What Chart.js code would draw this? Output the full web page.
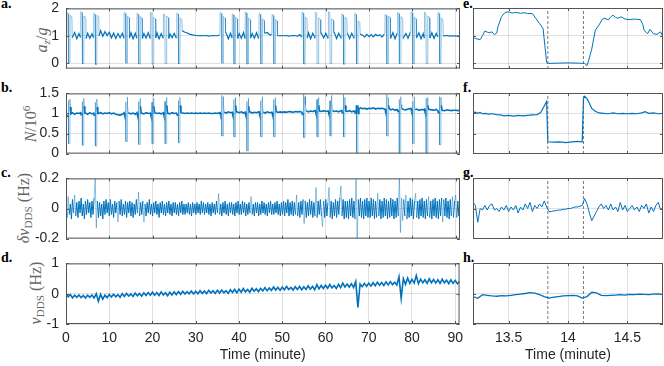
<!DOCTYPE html>
<html>
<head>
<meta charset="utf-8">
<script src="https://cdn.jsdelivr.net/npm/chart.js"></script>
<style>
body{margin:0;background:#fff;width:664px;height:366px;position:relative;overflow:hidden}
canvas{position:absolute}
.lt{position:absolute;font:bold 14px/14px "Liberation Serif",serif;color:#000}
.yt{position:absolute;transform:translate(-50%,-50%) rotate(-90deg);font:16px/16px "Liberation Serif",serif;color:#666;white-space:nowrap}
.yt sub,.yt sup{font-size:0.7em;line-height:0}
.yt sub{vertical-align:-0.3em}
.yt sup{vertical-align:0.5em}
</style>
</head>
<body>
<div class="lt" style="left:1px;top:-3px">a.</div>
<div class="lt" style="left:1px;top:81px">b.</div>
<div class="lt" style="left:1px;top:166px">c.</div>
<div class="lt" style="left:1px;top:251px">d.</div>
<div class="lt" style="left:463px;top:-3px">e.</div>
<div class="lt" style="left:463px;top:81px">f.</div>
<div class="lt" style="left:463px;top:166px">g.</div>
<div class="lt" style="left:463px;top:251px">h.</div>
<div class="yt" style="left:42px;top:40px"><i>a</i><sub><i>z</i></sub>/<i>g</i></div>
<div class="yt" style="left:31px;top:124px"><i>N</i>/10<sup>6</sup></div>
<div class="yt" style="left:24px;top:208px"><i>δν</i><sub>DDS</sub> (Hz)</div>
<div class="yt" style="left:36px;top:293px"><i>ν</i><sub>DDS</sub> (Hz)</div>
<script>
// long record a., b., d. sampled every 0.5 minute from t = 0 to 91
const T_STEP = 0.5;
// c. sampled every 0.25 minute
const T_STEP_C = 0.25;

// a. accelerometer a_z/g between jumps
const azBase = [
 1.04,0.90,1.10,0.93,1.12,0.89,1.08,0.94,1.11,0.90,
 1.09,0.91,1.07,0.93,1.18,1.00,1.19,0.98,1.15,1.01,
 1.13,0.92,1.10,0.90,1.08,0.93,1.09,0.91,1.07,0.92,
 1.11,0.89,1.09,0.91,1.12,0.90,1.08,0.92,1.11,0.90,
 1.09,0.92,1.11,0.89,1.08,0.91,1.12,0.90,1.07,0.93,
 1.09,0.91,1.12,1.15,1.18,1.13,1.10,1.06,1.04,1.02,
 1.01,1.00,1.01,1.00,1.00,1.01,0.99,1.00,1.01,1.00,
 1.00,1.04,1.08,0.90,1.10,0.89,1.09,0.92,1.11,0.90,
 1.08,0.91,1.12,0.90,1.09,0.92,1.08,0.91,1.11,0.90,
 1.09,0.92,1.10,1.12,1.03,1.04,1.01,1.02,1.00,1.01,
 1.00,1.00,1.01,0.99,1.00,1.01,1.00,0.99,1.04,0.95,
 1.08,0.91,1.11,0.89,1.09,0.92,1.11,0.90,1.08,0.92,
 1.09,0.91,1.08,0.93,1.11,0.90,1.09,0.92,1.08,0.91,
 1.10,0.90,1.09,0.92,1.05,0.96,1.06,1.02,0.96,1.05,
 0.97,1.04,0.96,1.05,1.00,1.04,0.95,1.06,0.95,1.09,
 0.90,1.11,0.89,1.09,0.92,1.11,0.90,1.08,0.91,1.12,
 0.90,1.09,0.92,1.11,0.89,1.08,0.91,1.09,0.92,1.11,
 0.90,1.08,0.96,1.03,0.99,1.00,1.01,0.99,1.00,0.99,
 1.00,0.99,1.00
];
// time (minute) where each jump's free-fall (a_z = 0) starts
const jumpT = [0.6,3.8,6.8,13.83,16.8,19.9,22.9,26.0,36.0,38.8,41.8,45.0,48.0,54.9,58.0,61.0,64.1,67.1,74.1,77.0,80.1,83.2,86.3];
const azPre  = [1.85,1.88,1.82,1.85,1.82,1.86,1.80,1.83,1.85,1.80,1.87,1.82,1.78,1.87,1.86,1.88,1.80,1.82,1.78,1.85,1.87,1.86,1.85];
const azLow  = [0,-0.02,-0.05,0,-0.03,-0.04,-0.02,-0.02,0,-0.02,-0.03,-0.02,-0.02,-0.03,-0.02,-0.02,-0.04,-0.02,-0.02,-0.02,-0.02,-0.02,-0.02];
const azPost = [1.75,1.72,1.75,1.72,1.70,1.68,1.72,1.65,1.70,1.68,1.65,1.62,1.60,1.68,1.65,1.62,1.68,1.55,1.72,1.70,1.68,1.72,1.65];

// b. atom number N/10^6
const nBase = [
 0.98,1.01,0.99,1.02,0.98,1.01,1.00,1.02,0.99,1.01,
 0.98,1.02,0.99,1.01,1.03,1.00,1.02,0.99,1.01,1.00,
 1.02,0.99,1.01,0.98,0.97,0.96,0.98,1.02,1.00,1.02,
 0.99,1.01,0.98,1.02,1.00,1.01,0.99,1.02,1.00,1.01,
 0.99,1.02,1.00,1.01,0.99,1.02,1.00,1.01,0.99,1.02,
 1.00,1.01,0.99,1.02,1.01,1.00,1.01,1.00,1.01,1.00,
 1.01,1.00,1.01,1.00,1.01,1.00,1.01,1.00,1.00,1.01,
 1.00,1.02,1.01,1.03,1.01,1.04,1.02,1.03,1.01,1.04,
 1.02,1.04,1.01,1.03,1.02,1.04,1.01,1.03,1.02,1.04,
 1.02,1.03,1.01,1.04,1.02,1.03,1.03,1.04,1.03,1.04,
 1.03,1.04,1.03,1.05,1.04,1.03,1.05,1.04,1.05,1.03,
 1.05,1.07,1.04,1.06,1.05,1.07,1.04,1.06,1.05,1.07,
 1.05,1.06,1.04,1.07,1.05,1.06,1.04,1.07,1.05,1.06,
 1.05,1.07,1.04,1.06,1.13,1.11,1.14,1.12,1.13,1.11,
 1.13,1.12,1.14,1.11,1.13,1.12,1.13,1.11,1.10,1.12,
 1.09,1.11,1.08,1.10,1.09,1.12,1.10,1.09,1.11,1.12,
 1.10,1.09,1.11,1.08,1.10,1.09,1.11,1.08,1.10,1.09,
 1.08,1.10,1.07,1.09,1.08,1.07,1.09,1.08,1.07,1.08,
 1.08,1.07,1.08
];
const nPre  = [1.32,1.30,1.28,1.29,1.30,1.28,1.30,1.32,1.45,1.35,1.30,1.32,1.35,1.50,1.35,1.32,1.48,1.20,1.48,1.35,1.30,1.38,1.42];
const nLow  = [0.25,0.21,0.19,0.30,0.23,0.25,0.25,0.27,0.44,0.42,0.07,0.42,0.42,0.40,0.42,0.44,0.42,0.0,0.44,0.0,0.25,0.0,0.22];
const nPost = [1.36,1.38,1.36,1.41,1.38,1.38,1.40,1.40,1.42,1.40,1.38,1.42,1.40,1.42,1.40,1.45,1.40,1.20,1.40,1.42,1.42,1.40,1.40];

// c. DDS frequency correction (Hz), every 0.25 minute
const dnu = [
 0.05,-0.06,0.08,-0.04,0.03,-0.07,0.06,-0.03,0.09,-0.05,
 0.04,-0.06,0.05,-0.03,0.07,-0.05,0.03,-0.07,0.05,-0.04,
 0.06,-0.03,0.04,-0.06,0.05,-0.04,0.07,0.20,-0.13,0.05,
 -0.06,0.04,-0.05,0.03,-0.07,0.05,-0.04,0.06,-0.03,0.04,
 -0.05,0.06,-0.04,0.03,-0.06,0.05,-0.03,0.04,-0.09,0.05,
 -0.04,0.06,-0.05,0.03,-0.04,0.05,-0.06,0.04,-0.03,0.05,
 -0.05,0.04,-0.06,0.03,-0.04,0.06,-0.03,0.11,-0.05,0.04,
 -0.04,0.05,-0.09,0.03,-0.05,0.04,-0.03,0.06,-0.04,0.03,
 -0.05,0.04,-0.03,0.05,-0.04,0.03,-0.06,0.04,-0.03,0.05,
 -0.04,0.03,-0.05,0.04,-0.03,0.05,-0.04,0.03,-0.05,0.04,
 -0.03,0.04,-0.04,0.03,-0.05,0.04,-0.03,0.05,-0.04,0.03,
 -0.04,0.03,-0.03,0.04,-0.04,0.03,-0.05,0.04,-0.03,0.03,
 -0.04,0.04,-0.03,0.03,-0.04,0.05,-0.03,0.04,-0.04,0.03,
 -0.03,0.04,-0.04,0.03,-0.05,0.04,-0.03,0.03,-0.04,0.05,
 -0.03,0.10,-0.04,0.03,-0.05,0.04,-0.03,0.05,-0.04,0.03,
 -0.05,0.04,-0.03,0.04,-0.04,0.03,-0.05,0.04,-0.03,0.05,
 -0.04,0.03,-0.04,0.05,-0.03,0.04,-0.05,0.03,-0.04,0.04,
 -0.03,0.08,-0.04,0.03,-0.05,0.04,-0.03,0.04,-0.05,0.03,
 -0.04,0.05,-0.03,0.04,-0.04,0.03,-0.05,0.04,-0.03,0.05,
 -0.04,0.03,-0.04,0.04,-0.03,0.05,-0.04,0.03,-0.05,0.04,
 -0.04,0.05,-0.05,0.04,-0.03,0.06,-0.05,0.04,-0.04,0.05,
 -0.05,0.04,-0.04,0.09,-0.05,0.04,-0.06,0.05,-0.04,0.06,
 -0.10,0.05,-0.06,0.04,-0.05,0.06,-0.04,0.05,-0.06,0.04,
 -0.05,0.14,-0.06,0.05,-0.04,0.06,-0.05,-0.12,0.05,-0.06,
 0.06,-0.05,0.04,0.14,-0.06,0.05,-0.07,0.04,-0.05,0.06,
 -0.06,0.05,-0.04,0.07,0.15,-0.05,0.06,-0.07,0.05,-0.06,
 0.05,-0.07,0.06,-0.05,0.07,-0.06,0.05,-0.07,0.20,-0.20,
 0.06,-0.05,0.07,-0.06,0.05,-0.07,0.06,-0.05,0.07,-0.06,
 0.05,-0.06,0.07,-0.05,0.06,-0.07,0.05,-0.06,0.10,-0.05,
 0.06,-0.07,0.05,-0.06,0.07,-0.05,0.06,-0.07,0.05,-0.06,
 0.07,-0.05,0.06,-0.07,0.05,-0.06,0.07,-0.05,0.20,-0.16,
 0.07,-0.08,0.06,-0.05,0.09,-0.07,0.05,-0.06,0.07,-0.05,
 0.06,-0.07,0.05,0.10,-0.06,0.05,-0.07,0.06,-0.05,0.07,
 -0.06,0.05,-0.07,0.06,-0.05,0.08,-0.06,0.05,-0.07,0.06,
 -0.05,0.07,-0.06,0.05,-0.07,0.06,-0.05,0.07,-0.09,0.06,
 -0.05,0.07,-0.06,0.05,-0.07,0.06,-0.05,0.08,-0.06,0.05,
 0.09,-0.06,0.05,-0.05,0.04
];

// d. DDS frequency (Hz)
const nu = [
 -0.01,-0.10,-0.03,-0.14,-0.05,-0.12,-0.04,-0.13,-0.06,-0.14,
 -0.05,-0.12,-0.04,-0.14,0.00,-0.25,-0.02,-0.18,-0.05,-0.13,
 -0.03,-0.11,-0.02,-0.10,-0.03,-0.12,0.00,-0.09,0.01,-0.08,
 -0.01,-0.09,0.02,-0.07,0.01,-0.08,0.03,-0.06,0.04,-0.05,
 0.05,-0.05,0.04,-0.06,0.06,-0.04,0.03,-0.07,0.05,-0.04,
 0.06,-0.03,0.07,-0.02,0.08,-0.01,0.07,0.00,0.09,-0.01,
 0.08,0.00,0.10,0.01,0.09,0.00,0.11,0.02,0.10,0.01,
 0.11,0.02,0.12,0.03,0.10,0.01,0.13,0.04,0.14,0.03,
 0.15,0.05,0.17,0.06,0.14,0.05,0.18,0.08,0.16,0.07,
 0.18,0.09,0.20,0.10,0.19,0.11,0.22,0.12,0.21,0.11,
 0.22,0.13,0.24,0.14,0.21,0.12,0.23,0.14,0.24,0.13,
 0.23,0.14,0.26,0.15,0.24,0.13,0.30,0.16,0.27,0.17,
 0.28,0.18,0.30,0.19,0.27,0.17,0.31,0.20,0.35,0.22,
 0.32,0.22,0.33,0.20,0.40,-0.45,0.32,0.23,0.34,0.24,
 0.35,0.25,0.36,0.26,0.38,0.28,0.37,0.27,0.39,0.29,
 0.40,0.30,0.38,0.29,0.56,-0.15,0.50,0.31,0.52,0.34,
 0.47,0.35,0.60,0.33,0.48,0.36,0.46,0.34,0.49,0.36,
 0.47,0.35,0.46,0.34,0.48,0.36,0.45,0.33,0.46,0.34,
 0.44,0.33,0.40
];

// zoom on one jump (13.2 - 14.8 minute)
const zoomMarks = [13.83, 14.13];
const azZoom = [[13.2,0.95],[13.22,0.9],[13.26,0.86],[13.28,1.0],[13.3,1.17],[13.32,1.13],[13.34,1.11],[13.36,1.14],[13.38,1.04],[13.4,1.1],
 [13.41,1.32],[13.44,1.69],[13.47,1.84],[13.5,1.86],[13.53,1.82],[13.56,1.84],[13.6,1.81],[13.63,1.83],[13.66,1.8],[13.7,1.8],
 [13.73,1.62],[13.76,1.44],[13.79,1.26],[13.82,0.03],[13.84,0.0],[13.9,0.01],[14.0,0.02],[14.1,0.01],[14.14,0.0],[14.16,-0.08],
 [14.18,0.2],[14.2,0.52],[14.23,1.2],[14.26,1.38],[14.29,1.6],[14.31,1.63],[14.34,1.57],[14.36,1.68],[14.38,1.74],[14.4,1.66],
 [14.42,1.63],[14.45,1.68],[14.48,1.6],[14.52,1.58],[14.56,1.6],[14.61,1.58],[14.63,1.4],[14.64,1.2],[14.67,1.07],[14.69,1.23],
 [14.72,1.07],[14.75,1.05],[14.78,1.14],[14.8,0.95]];
const nZoom = [[13.2,1.01],[13.22,1.03],[13.24,1.0],[13.26,1.02],[13.28,0.99],[13.3,1.0],[13.33,0.98],[13.36,0.99],[13.4,0.97],[13.43,0.96],
 [13.46,0.94],[13.5,0.95],[13.54,0.93],[13.58,0.95],[13.62,0.94],[13.66,0.95],[13.7,0.96],[13.74,0.97],[13.77,1.02],[13.8,1.18],
 [13.82,1.29],[13.83,0.3],[13.88,0.29],[13.93,0.3],[13.98,0.28],[14.03,0.3],[14.08,0.31],[14.12,0.3],[14.13,1.35],[14.14,1.42],
 [14.16,1.36],[14.18,1.25],[14.2,1.12],[14.23,1.05],[14.26,1.01],[14.3,1.0],[14.34,0.99],[14.38,1.01],[14.42,0.99],[14.46,1.0],
 [14.5,0.99],[14.54,1.0],[14.58,0.99],[14.62,1.01],[14.65,1.04],[14.68,1.0],[14.72,1.01],[14.76,0.99],[14.8,1.0]];
// g. every 0.02 minute from 13.2
const dnuZoom = [
 0.04,0.02,-0.09,0.0,-0.01,0.02,-0.01,0.02,0.03,-0.01,
 0.0,-0.02,0.01,-0.01,0.02,-0.02,0.01,-0.01,0.02,-0.03,
 0.01,-0.01,0.03,0.0,0.04,-0.02,0.02,0.0,0.03,0.01,
 0.05,0.01,-0.02,-0.02,-0.015,-0.015,-0.01,-0.01,-0.005,-0.005,
 0.0,0.0,0.005,0.01,0.01,0.015,0.02,0.065,0.03,-0.03,
 -0.08,-0.05,-0.02,0.01,0.03,0.0,0.02,-0.01,0.03,-0.01,
 0.01,-0.02,0.04,-0.01,0.02,-0.02,0.0,0.02,-0.01,0.01,
 -0.02,0.02,0.0,0.03,-0.03,0.01,-0.02,0.02,0.04,-0.01,
 0.01
];
// h. every 0.04 minute from 13.2
const nuZoom = [
 -0.1,-0.16,-0.04,-0.06,-0.08,-0.09,-0.07,-0.08,-0.06,-0.04,
 -0.02,0.0,0.03,0.01,-0.04,-0.1,-0.15,-0.12,-0.1,-0.08,
 -0.07,-0.06,-0.08,-0.15,-0.1,0.04,0.02,-0.06,-0.07,-0.06,
 -0.05,-0.04,-0.05,-0.03,-0.04,-0.02,-0.03,-0.04,-0.02,-0.01,
 -0.04
];

const xTicksLong = [0,10,20,30,40,50,60,70,80,90];
const xTicksZoom = [13.5,14,14.5];
const yTicksA = [0,1,2], yTicksB = [0,0.5,1,1.5], yTicksC = [-0.2,0,0.2], yTicksD = [-1,0,1];

const BLUE = '#0072BD', LIGHT = 'rgba(0,114,189,0.55)', GRID = 'rgba(0,0,0,0.12)', TXT = '#262626';

function stepped(vals, start, step) {
  return vals.map((v, i) => ({x: +(start + i * step).toFixed(3), y: v}));
}
function pairs(arr) { return arr.map(([x, y]) => ({x, y})); }

// merge the sampled baseline with the jump points
function withJumps(base, jumps) {
  const pts = [];
  base.forEach((v, i) => {
    const t = i * T_STEP;
    if (!jumps.some(j => t >= j[0][0] && t <= j[j.length - 1][0])) pts.push({x: t, y: v});
  });
  jumps.forEach(j => j.forEach(([x, y]) => pts.push({x, y})));
  return pts.sort((p, q) => p.x - q.x);
}
const baseAt = (base, t) => base[Math.min(base.length - 1, Math.round(t / T_STEP))];

const azJumps = jumpT.map((t0, k) => [
  [t0 - 0.45, baseAt(azBase, t0 - 0.45)], [t0 - 0.4, azPre[k]], [t0 - 0.08, azPre[k] - 0.04], [t0, azLow[k]],
  [t0 + 0.3, azLow[k]], [t0 + 0.36, azPost[k]], [t0 + 0.76, azPost[k] - 0.06], [t0 + 0.84, baseAt(azBase, t0 + 0.84)]
]);
const nJumps = jumpT.map((t0, k) => [
  [t0 - 0.4, baseAt(nBase, t0 - 0.4)], [t0 - 0.3, baseAt(nBase, t0 - 0.4) - 0.05], [t0 - 0.05, baseAt(nBase, t0 - 0.4) - 0.03],
  [t0 - 0.02, nPre[k]], [t0, nLow[k]], [t0 + 0.3, nLow[k]], [t0 + 0.31, nPost[k]], [t0 + 0.4, nPost[k] - 0.2],
  [t0 + 0.55, baseAt(nBase, t0 + 0.55)]
]);

// thin excursions look paler in the original, so those segments get a lighter, thinner stroke
function trace(pts, isOut, width) {
  const ds = {data: pts, borderColor: BLUE, borderWidth: width || 1, pointRadius: 0, tension: 0};
  if (isOut) {
    const out = c => isOut(c.p0.parsed.y) || isOut(c.p1.parsed.y);
    ds.segment = {borderColor: c => out(c) ? LIGHT : undefined, borderWidth: c => out(c) ? 0.8 : undefined};
  }
  return ds;
}
function markLines(ymin, ymax) {
  return zoomMarks.map(t => ({data: [{x: t, y: ymin}, {x: t, y: ymax}], borderColor: '#555',
    borderWidth: 0.8, borderDash: [3, 2], pointRadius: 0}));
}

// axes box with inward tick marks, like the original figure
const boxPlugin = {
  id: 'box',
  afterDraw(chart) {
    const {ctx, chartArea: a, scales: {x, y}} = chart;
    ctx.save();
    ctx.strokeStyle = '#555';
    ctx.lineWidth = 1;
    ctx.strokeRect(a.left + 0.5, a.top + 0.5, a.right - a.left - 1, a.bottom - a.top - 1);
    ctx.beginPath();
    x.ticks.forEach(t => {
      const px = Math.round(x.getPixelForValue(t.value)) + 0.5;
      ctx.moveTo(px, a.top); ctx.lineTo(px, a.top + 3);
      ctx.moveTo(px, a.bottom); ctx.lineTo(px, a.bottom - 3);
    });
    y.ticks.forEach(t => {
      const py = Math.round(y.getPixelForValue(t.value)) + 0.5;
      ctx.moveTo(a.left, py); ctx.lineTo(a.left + 3, py);
      ctx.moveTo(a.right, py); ctx.lineTo(a.right - 3, py);
    });
    ctx.stroke();
    ctx.restore();
  }
};

function config(p) {
  return {
    type: 'line',
    data: {datasets: p.sets},
    options: {
      responsive: false, maintainAspectRatio: false, animation: false, devicePixelRatio: 1,
      layout: {padding: 0},
      plugins: {legend: {display: false}, tooltip: {enabled: false}},
      scales: {
        x: {
          type: 'linear', min: p.xmin, max: p.xmax,
          afterBuildTicks: s => { s.ticks = p.xticks.map(v => ({value: v})); },
          afterFit: s => { s.height = p.xh; },
          grid: {color: GRID, drawTicks: false}, border: {display: false},
          ticks: {display: p.xlab, padding: 6, font: {size: 14}, color: TXT, autoSkip: false, maxRotation: 0,
                  callback: v => String(v)},
          title: {display: p.xlab, text: 'Time (minute)', font: {size: 14}, color: TXT, padding: {top: 0, bottom: 2}}
        },
        y: {
          min: p.ymin, max: p.ymax,
          afterBuildTicks: s => { s.ticks = p.yticks.map(v => ({value: v})); },
          afterFit: s => { s.width = p.yw; },
          grid: {color: GRID, drawTicks: false}, border: {display: false},
          ticks: {display: p.ylab, padding: 7, font: {size: 14}, color: TXT, callback: v => String(v)}
        }
      }
    },
    plugins: [boxPlugin]
  };
}

// place a chart so that its plot box lands on p.box
function panel(p) {
  const c = document.createElement('canvas');
  c.width = p.box.w + p.yw + 20; c.height = p.box.h + p.xh + 20;
  document.body.appendChild(c);
  let chart = new Chart(c, config(p));
  let a = chart.chartArea;
  const w = c.width + p.box.w - (a.right - a.left);
  const h = c.height + p.box.h - (a.bottom - a.top);
  if (w !== c.width || h !== c.height) {
    chart.destroy();
    c.width = w; c.height = h;
    chart = new Chart(c, config(p));
    a = chart.chartArea;
  }
  c.style.left = (p.box.l - a.left) + 'px';
  c.style.top = (p.box.t - a.top) + 'px';
}

Chart.defaults.font.family = '"Liberation Sans", Arial, sans-serif';

const BOX_H = 61;
const rows = [
  {top: 8,   ymin: -0.2, ymax: 2,   yticks: yTicksA,
   long: trace(withJumps(azBase, azJumps), y => y > 1.25 || y < 0.75, 1.2), zoom: trace(pairs(azZoom))},
  {top: 93,  ymin: 0,    ymax: 1.5, yticks: yTicksB,
   long: trace(withJumps(nBase, nJumps), y => y > 1.2 || y < 0.85, 1.6),   zoom: trace(pairs(nZoom), null, 1.2)},
  {top: 178, ymin: -0.2, ymax: 0.2, yticks: yTicksC,
   long: trace(stepped(dnu, 0, T_STEP_C), y => Math.abs(y) > 0.075),      zoom: trace(stepped(dnuZoom, 13.2, 0.02))},
  {top: 263, ymin: -1,   ymax: 1,   yticks: yTicksD,
   long: trace(stepped(nu, 0, T_STEP), null, 1.6),                       zoom: trace(stepped(nuZoom, 13.2, 0.04), null, 1.3)}
];

rows.forEach((r, i) => {
  const last = i === rows.length - 1;
  const xh = last ? 42 : 0;
  panel({box: {l: 66, t: r.top, w: 394, h: BOX_H},
         xmin: 0, xmax: 91, xticks: xTicksLong, xh, xlab: last,
         ymin: r.ymin, ymax: r.ymax, yticks: r.yticks, yw: 66, ylab: true,
         sets: [r.long]});
  panel({box: {l: 473, t: r.top, w: 190, h: BOX_H},
         xmin: 13.2, xmax: 14.8, xticks: xTicksZoom, xh, xlab: last,
         ymin: r.ymin, ymax: r.ymax, yticks: r.yticks, yw: 0, ylab: false,
         sets: [r.zoom, ...markLines(r.ymin, r.ymax)]});
});
</script>
</body>
</html>
